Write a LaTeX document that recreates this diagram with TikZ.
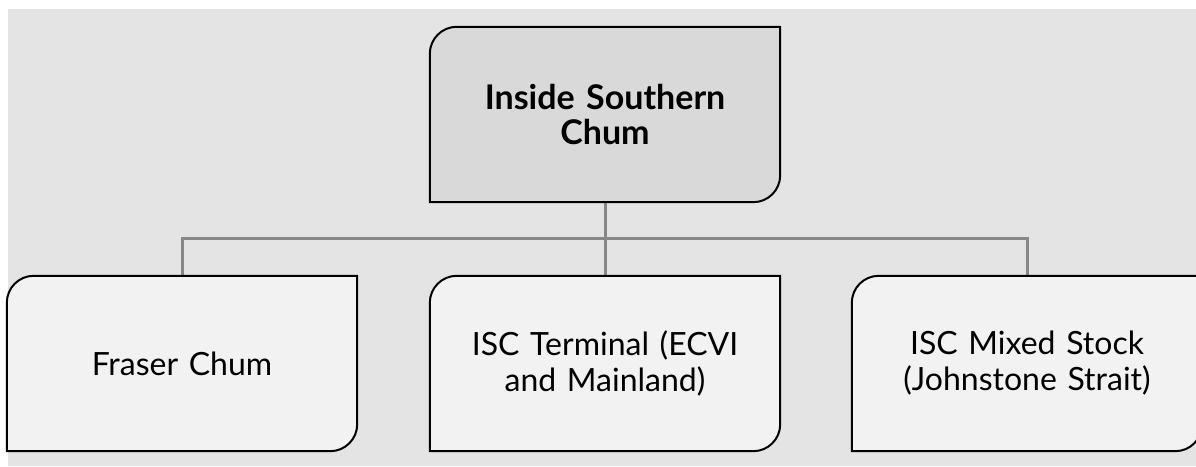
\documentclass[tikz,border=0pt]{standalone}
\usepackage{fontspec}
\setmainfont{Lato}
\usetikzlibrary{calc}
\definecolor{bgc}{HTML}{E4E4E4}
\definecolor{topc}{HTML}{D9D9D9}
\definecolor{childc}{HTML}{F2F2F2}
\definecolor{linec}{HTML}{878787}
\pgfdeclarelayer{back}
\pgfsetlayers{back,main}
\newcommand\cutbox[2]{%
  \draw[line width=2pt,fill=#2] ([yshift=-27pt]#1.north west) arc[start angle=180,end angle=90,radius=27pt] -- (#1.north east) -- ([yshift=27pt]#1.south east) arc[start angle=0,end angle=-90,radius=27pt] -- (#1.south west) -- cycle;}
\tikzset{
  boxnode/.style={rectangle,inner sep=0pt,minimum width=350pt,minimum height=175pt,text width=320pt,align=center,font=\fontsize{32}{36}\selectfont},
  conn/.style={draw=linec,line width=3pt}
}
\begin{document}
\begin{tikzpicture}[x=1pt,y=1pt]
\useasboundingbox (0,0) rectangle (1196,466);
\begin{pgfonlayer}{back}
\fill[bgc] (8,0) rectangle (1196,457);
\end{pgfonlayer}
\node[boxnode,font=\fontsize{34}{35}\selectfont\bfseries] (top) at (605,351.5) {Inside Southern\\Chum};
\node[boxnode] (fr) at (182,102.5) {Fraser Chum};
\node[boxnode] (mid) at (605,102.5) {ISC Terminal (ECVI\\and Mainland)};
\node[boxnode] (js) at (1027,102.5) {ISC Mixed Stock\\(Johnstone Strait)};
\coordinate (bus) at (605,227);
\begin{pgfonlayer}{back}
\draw[conn] (top.south) -- (mid.north);
\draw[conn] (fr.north) -- (fr.north |- bus) -| (js.north);
\cutbox{top}{topc}
\cutbox{fr}{childc}
\cutbox{mid}{childc}
\cutbox{js}{childc}
\end{pgfonlayer}
\end{tikzpicture}
\end{document}
